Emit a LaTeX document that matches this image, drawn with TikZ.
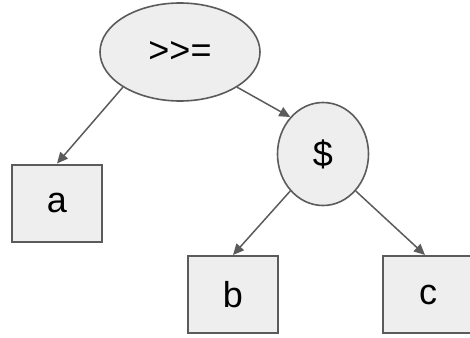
\documentclass[tikz,border=0pt]{standalone}
\usepackage{fontspec}
\setmainfont{Liberation Sans}
\usetikzlibrary{shapes.geometric,arrows.meta}
\definecolor{edgegray}{HTML}{5B5B5B}
\definecolor{fillgray}{HTML}{EEEEEE}
\begin{document}
\begin{tikzpicture}[x=1pt,y=-1pt]
\tikzstyle{every node}+=[inner sep=0pt,font=\fontsize{36}{42}\selectfont]
\tikzstyle{opnode}=[ellipse,draw=edgegray,fill=fillgray,line width=1.6pt]
\tikzstyle{leaf}=[rectangle,draw=edgegray,fill=fillgray,line width=2pt,minimum width=90pt,minimum height=77pt]
\tikzstyle{edge}=[draw=edgegray,line width=1.5pt,-{Triangle[length=11pt,width=10pt]}]
\useasboundingbox (0,0) rectangle (470,337);
\node [opnode,minimum width=160pt,minimum height=98pt] (bind) at (180,52) {>\kern0pt>\kern0pt=};
\node [opnode,minimum width=91pt,minimum height=103pt] (app) at (323,154) {\$};
\node [leaf] (a) at (57,203) {a};
\node [leaf] (b) at (233,294.5) {b};
\node [leaf] (c) at (428,294.5) {c};
\draw [edge] (bind.south west) -- (a.north);
\draw [edge] (bind.south east) -- (app.north west);
\draw [edge] (app.south west) -- (b.north);
\draw [edge] (app.south east) -- ([xshift=-3pt]c.north);
\end{tikzpicture}
\end{document}
